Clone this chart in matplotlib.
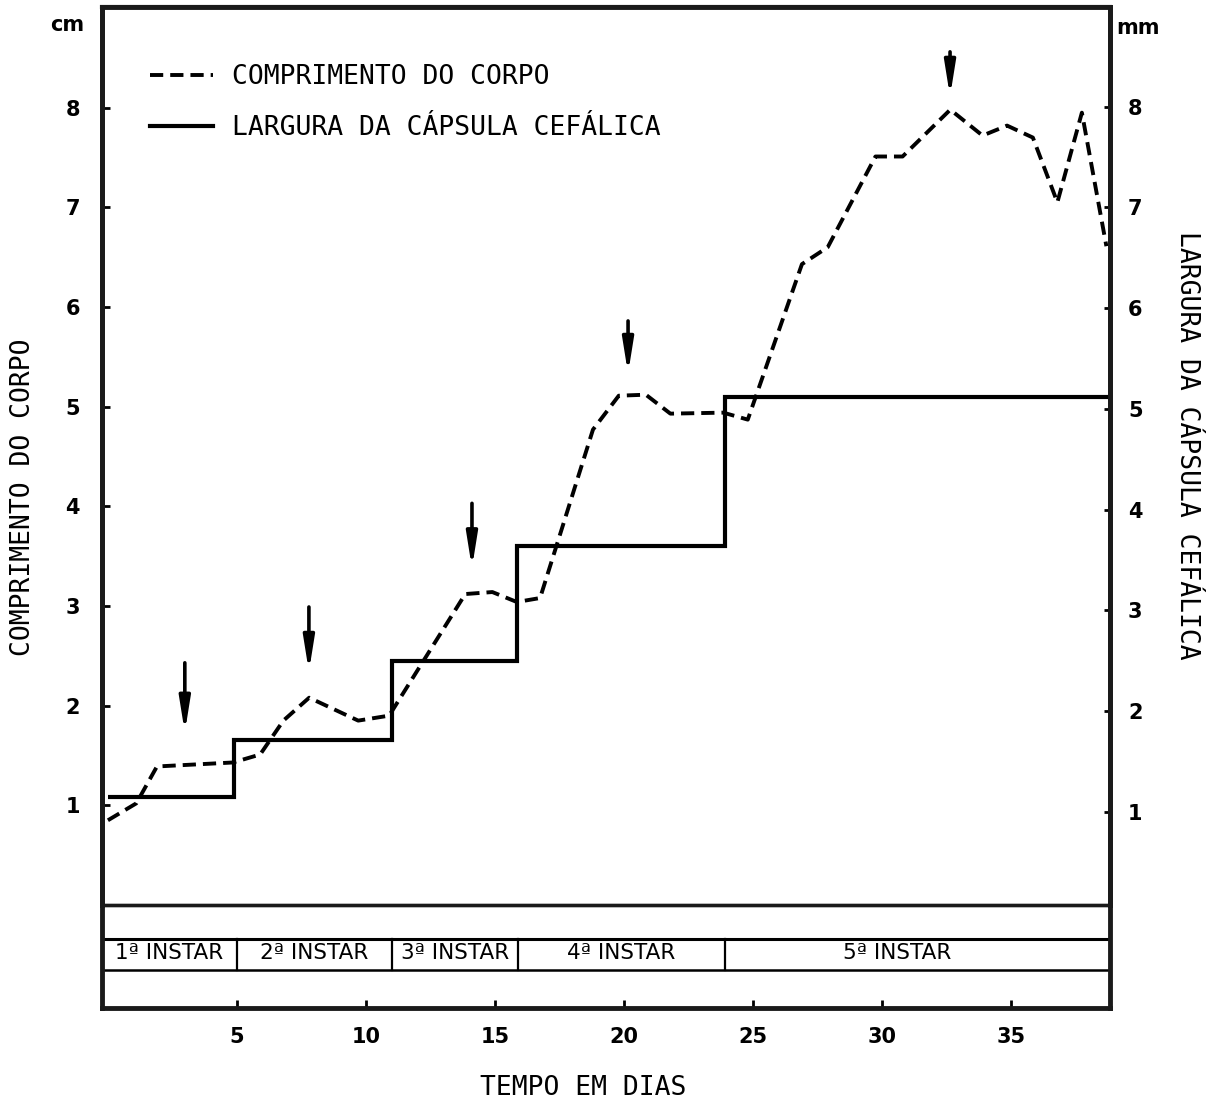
import numpy as np
import matplotlib.pyplot as plt

# comprimento do corpo (cm)
dias_corpo = [0.0, 1.1, 1.9, 4.85, 5.9, 6.8, 7.8, 9.7, 10.9, 13.85, 14.9, 15.85,
              16.75, 18.8, 19.8, 20.85, 21.8, 23.85, 24.8, 26.9, 27.9, 29.75,
              30.8, 32.65, 33.9, 34.85, 35.85, 36.8, 37.75, 38.7]
comprimento = [0.85, 1.02, 1.39, 1.43, 1.51, 1.85, 2.08, 1.85, 1.90, 3.12, 3.14, 3.04,
               3.08, 4.77, 5.11, 5.12, 4.93, 4.94, 4.87, 6.43, 6.60, 7.51,
               7.51, 7.98, 7.72, 7.82, 7.70, 7.05, 7.95, 6.61]

# largura da capsula cefalica (mm), em degraus entre as mudas
mudas = [0.0, 4.9, 11.0, 15.85, 23.9, 38.84]
capsula = [1.15, 1.71, 2.50, 3.64, 5.12]

# setas (ecdises)
setas_dia = [2.98, 7.79, 14.11, 20.16, 32.64]
setas_topo = [2.43, 2.99, 4.03, 5.86, 8.56]
setas_ponta = [1.73, 2.34, 3.38, 5.33, 8.11]

# faixa dos instares
instar_limites = [-0.23, 5.0, 11.0, 15.9, 23.9, 38.84]
instar_nomes = ['1ª INSTAR', '2ª INSTAR', '3ª INSTAR', '4ª INSTAR', '5ª INSTAR']

xticks = [5, 10, 15, 20, 25, 30, 35]
yticks = [1, 2, 3, 4, 5, 6, 7, 8]

W, H = 1212, 1102
fig = plt.figure(figsize=(W / 100, H / 100), dpi=100)

def fx(px):
    return px / W

def fy(py):
    return 1 - py / H

mono = 'DejaVu Sans Mono'
xlim = (-0.23, 38.84)

ax = fig.add_axes([fx(102), fy(905), fx(1110) - fx(102), fy(7) - fy(905)])
ax.set_xlim(*xlim)
ax.set_ylim(0, 9.01)
ax2 = ax.twinx()
ax2.set_ylim(0.076, 8.99)

ax.plot(dias_corpo, comprimento, color='black', lw=2.8, dashes=(3.4, 1.8),
        label='COMPRIMENTO DO CORPO')
ax2.stairs(capsula, mudas, baseline=None, color='black', lw=3.0,
           label='LARGURA DA CÁPSULA CEFÁLICA')

for d, t, p in zip(setas_dia, setas_topo, setas_ponta):
    ax.annotate('', xy=(d, p), xytext=(d, t),
                arrowprops=dict(arrowstyle='-|>,head_length=1.0,head_width=0.16',
                                lw=2.6, color='black', shrinkA=0, shrinkB=0,
                                mutation_scale=20))

for a in (ax, ax2):
    for s in a.spines.values():
        s.set_linewidth(3.5)
        s.set_color('#1a1a1a')
ax.spines['top'].set_linewidth(3.0)
ax.spines['bottom'].set_linewidth(2.4)
ax2.spines['bottom'].set_linewidth(2.4)

ax.set_xticks([])
ax.set_yticks(yticks)
ax.set_yticklabels([str(v) for v in yticks], fontsize=15, fontweight='bold')
ax.tick_params(axis='y', direction='in', length=6, width=2, pad=16)
ax2.set_yticks(yticks)
ax2.set_yticklabels([str(v) for v in yticks], fontsize=15, fontweight='bold')
ax2.tick_params(axis='y', direction='in', length=4, width=2, pad=13)

fig.text(fx(23), fy(497), 'COMPRIMENTO DO CORPO', family=mono, fontsize=19,
         rotation=90, ha='center', va='center')
fig.text(fx(1187), fy(445), 'LARGURA DA CÁPSULA CEFÁLICA', family=mono, fontsize=19,
         rotation=270, ha='center', va='center')

fig.text(fx(67), fy(25), 'cm', fontsize=15, fontweight='bold', ha='center', va='center')
fig.text(fx(1138), fy(28), 'mm', fontsize=15, fontweight='bold', ha='center', va='center')

leg = ax2.legend(handles=[ax.get_lines()[0],
                          plt.Line2D([], [], color='black', lw=3.0)],
                 labels=['COMPRIMENTO DO CORPO', 'LARGURA DA CÁPSULA CEFÁLICA'],
                 loc='upper left', bbox_to_anchor=(fx(150), fy(64)),
                 bbox_transform=fig.transFigure, frameon=False,
                 prop={'family': mono, 'size': 19}, handlelength=2.4,
                 handletextpad=0.7, labelspacing=0.95, borderpad=0, borderaxespad=0)

# faixa inferior com os instares
axs = fig.add_axes([fx(102), fy(1008), fx(1110) - fx(102), fy(905) - fy(1008)])
axs.patch.set_visible(False)
axs.set_xlim(*xlim)
axs.set_ylim(0, 1)
axs.spines['top'].set_visible(False)
for k in ('left', 'right', 'bottom'):
    axs.spines[k].set_linewidth(3.5)
    axs.spines[k].set_color('#1a1a1a')
axs.axhline(0.67, color='black', lw=2.2)
axs.axhline(0.369, color='black', lw=1.8)
for b in instar_limites[1:-1]:
    axs.plot([b, b], [0.369, 0.67], color='black', lw=1.6)
for i, nome in enumerate(instar_nomes):
    c = (instar_limites[i] + instar_limites[i + 1]) / 2
    if i == 4:
        c = 30.6
    axs.text(c, 0.53, nome, fontsize=15.5, ha='center', va='center')
axs.set_yticks([])
axs.set_xticks(xticks)
axs.set_xticklabels([str(v) for v in xticks], fontsize=15, fontweight='bold')
axs.tick_params(axis='x', direction='in', length=6, width=2, pad=14)

fig.text(fx(583), fy(1088), 'TEMPO EM DIAS', family=mono, fontsize=19,
         ha='center', va='center')

fig.savefig('out.png', dpi=100)
